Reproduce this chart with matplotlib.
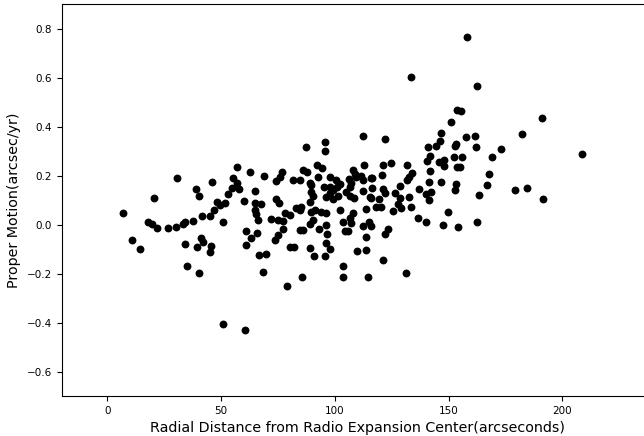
import matplotlib
matplotlib.use('Agg')
import matplotlib.pyplot as plt
import numpy as np

# radial distance (arcsec) and proper motion (arcsec/yr)
radius = [
    7.1,
    # 20-62 arcsec
    57.0, 62.9, 30.5, 46.0, 55.3, 56.9, 57.8, 54.8, 39.2, 40.5, 52.9, 20.4, 48.2, 59.9,
    51.8, 49.4, 46.8, 45.3, 41.6, 17.8, 19.7, 21.9, 26.6, 30.2, 33.3, 34.3, 37.6, 51.1,
    61.2, 11.0, 14.6, 34.2, 41.2, 42.3, 39.3, 45.6, 45.2, 60.9, 35.2, 40.2,
    # low outliers
    50.7, 60.6, 79.2, 85.5, 103.8, 114.6,
    # upper points
    158.2, 133.7, 162.3, 153.5, 155.3, 150.9, 146.7, 112.3, 122.1, 157.7, 161.6, 87.4,
    95.5, 95.7, 146.2, 144.3, 141.0, 153.2, 152.9, 162.1,
    # outer
    190.9, 182.4, 173.1, 168.9, 208.8, 179.0, 184.6, 191.3,
    # 116-168 arcsec
    141.9, 140.3, 145.9, 147.9, 147.8, 152.2, 155.7, 153.8, 155.0, 121.0, 124.9, 131.8,
    120.7, 134.0, 132.8, 131.8, 141.8, 141.6, 146.6, 153.1, 152.8, 167.7, 167.0, 163.2,
    116.3, 116.3, 121.0, 121.9, 126.3, 128.6, 119.5, 116.0, 127.6, 129.3, 125.4, 118.0,
    120.5, 128.6, 132.7, 133.3, 136.8, 139.9, 142.3, 141.2, 149.6, 136.4, 140.0, 147.5,
    154.0, 162.6, 116.1, 123.4, 122.1, 121.2, 131.4,
    # 62-116 arcsec
    92.4, 94.3, 86.1, 87.8, 112.9, 108.0, 108.9, 68.8, 76.8, 75.8, 74.3, 81.7, 84.6,
    89.0, 89.7, 92.7, 97.8, 100.7, 102.5, 106.3, 107.3, 109.5, 111.7, 112.4, 115.7,
    95.1, 97.8, 99.3, 101.0, 89.7, 90.5, 89.0, 64.8, 106.6, 105.1, 106.6, 108.3, 97.8,
    96.3, 99.3, 112.4, 115.4, 101.4, 74.0, 75.5, 64.8, 67.7, 64.8, 65.5, 66.3, 78.0,
    80.2, 83.1, 84.6, 85.3, 89.7, 91.2, 94.1, 96.3, 102.5, 107.8, 106.6, 113.9, 72.1,
    75.1, 77.3, 90.5, 89.0, 103.6, 107.3, 112.4, 115.1, 65.8, 77.3, 84.6, 86.1, 93.1,
    96.3, 104.4, 105.8, 63.3, 73.6, 75.1, 96.6, 113.9, 80.2, 82.1, 89.0, 97.8, 96.3,
    109.8, 113.9, 66.7, 69.6, 90.7, 95.6, 103.6, 68.5,
]
motion = [
    0.049,
    0.235, 0.213, 0.191, 0.173, 0.191, 0.169, 0.147, 0.150, 0.145, 0.118, 0.123, 0.108, 0.094, 0.096,
    0.088, 0.081, 0.060, 0.035, 0.035, 0.011, 0.003, -0.014, -0.013, -0.010, 0.003, 0.010, 0.013, 0.009,
    -0.028, -0.065, -0.098, -0.078, -0.057, -0.073, -0.092, -0.089, -0.112, -0.085, -0.171, -0.198,
    -0.406, -0.432, -0.249, -0.214, -0.214, -0.216,
    0.765, 0.602, 0.564, 0.469, 0.463, 0.418, 0.375, 0.362, 0.350, 0.357, 0.362, 0.316,
    0.335, 0.300, 0.339, 0.322, 0.315, 0.329, 0.322, 0.316,
    0.436, 0.371, 0.307, 0.274, 0.288, 0.139, 0.150, 0.105,
    0.281, 0.260, 0.256, 0.264, 0.240, 0.277, 0.276, 0.233, 0.235, 0.243, 0.253, 0.245,
    0.202, 0.210, 0.196, 0.180, 0.217, 0.175, 0.172, 0.165, 0.141, 0.207, 0.161, 0.122,
    0.190, 0.150, 0.145, 0.129, 0.129, 0.158, 0.104, 0.108, 0.084, 0.066, 0.055, 0.071,
    0.071, 0.108, 0.111, 0.071, 0.145, 0.124, 0.131, 0.101, 0.052, 0.028, 0.009, -0.002,
    -0.009, 0.010, -0.005, -0.018, -0.039, -0.144, -0.198,
    0.241, 0.230, 0.221, 0.213, 0.242, 0.221, 0.205, 0.199, 0.213, 0.196, 0.176, 0.183, 0.183,
    0.169, 0.162, 0.196, 0.196, 0.183, 0.166, 0.185, 0.169, 0.193, 0.199, 0.180, 0.189,
    0.155, 0.153, 0.139, 0.153, 0.132, 0.115, 0.094, 0.135, 0.153, 0.132, 0.117, 0.108, 0.128,
    0.111, 0.104, 0.135, 0.112, 0.115, 0.104, 0.087, 0.087, 0.085, 0.060, 0.044, 0.019, 0.047,
    0.040, 0.067, 0.060, 0.071, 0.053, 0.060, 0.053, 0.047, 0.060, 0.047, 0.026, 0.063, 0.022,
    0.019, 0.013, 0.019, 0.003, 0.009, 0.006, -0.005, 0.010, -0.035, -0.017, -0.024, -0.021, -0.017,
    0.000, -0.025, -0.025, -0.055, -0.065, -0.042, -0.038, -0.051, -0.092, -0.092, -0.096, -0.099, -0.076,
    -0.106, -0.103, -0.126, -0.119, -0.130, -0.127, -0.171, -0.194,
]

fig = plt.figure(figsize=(6.44, 4.36), dpi=100)
ax = fig.add_axes([0.0957, 0.0917, 0.919, 0.899])
ax.scatter(radius, motion, s=32, c='black', linewidths=0)
ax.set_xlim(-20, 240)
ax.set_ylim(-0.7, 0.9)
ax.set_xticks([0, 50, 100, 150, 200])
ax.set_yticks(np.arange(-0.6, 0.81, 0.2))
ax.tick_params(labelsize=7.5)
ax.set_xlabel('Radial Distance from Radio Expansion Center(arcseconds)', fontsize=10.3)
ax.set_ylabel('Proper Motion(arcsec/yr)', fontsize=10.3)
fig.savefig('out.png', dpi=100)
